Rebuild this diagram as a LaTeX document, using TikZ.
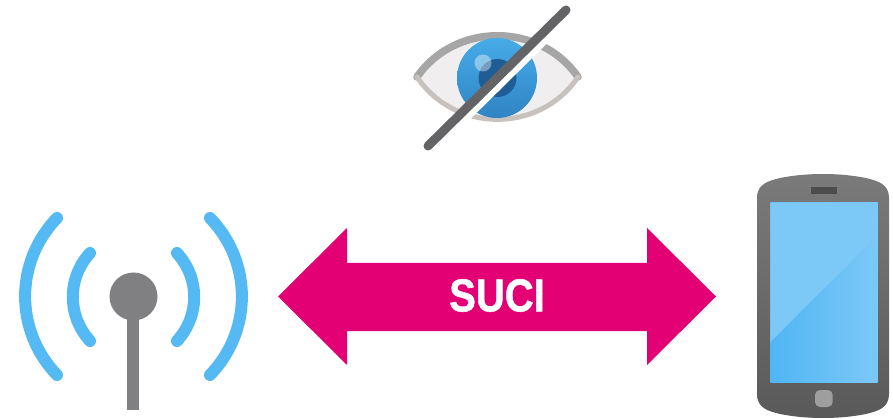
\documentclass[tikz,border=0pt]{standalone}
\usepackage{fontspec}
\setmainfont{Liberation Sans}
\usepackage{xcolor}
\usetikzlibrary{positioning,calc}
\definecolor{magentalink}{RGB}{226,0,116}
\definecolor{signalblue}{RGB}{85,185,243}
\definecolor{mastgray}{RGB}{128,128,130}
\definecolor{slashgray}{RGB}{100,100,102}
\definecolor{screenlight}{RGB}{124,200,246}
\definecolor{screenlow}{RGB}{80,182,243}
\definecolor{irislight}{RGB}{70,172,232}
\definecolor{irisdark}{RGB}{48,132,196}
\definecolor{pupilblue}{RGB}{32,92,150}
\definecolor{lidtop}{RGB}{166,166,166}
\definecolor{lidlow}{RGB}{200,194,190}
\definecolor{sclera}{RGB}{240,238,238}
\begin{document}
\begin{tikzpicture}[
  x=1pt, y=-1pt,
  signal/.style={draw=signalblue, line width=12pt, line cap=round},
  mast/.style={fill=mastgray, draw=none},
  lid/.style={line cap=round, draw=#1},
  linkarrow/.style={fill=magentalink, draw=none},
  label/.style={font=\bfseries\fontsize{46}{46}\selectfont\addfontfeature{FakeBold=1.2},
                text=white, inner sep=0pt, xscale=.87}
]
  \useasboundingbox (0,0) rectangle (893,419);

  % antenna
  \coordinate (outerLT) at (57,218);
  \coordinate (outerLB) at (57,375);
  \coordinate (innerLT) at (90,253);
  \coordinate (innerLB) at (90,341);
  \coordinate (innerRT) at (177,253);
  \coordinate (innerRB) at (177,341);
  \coordinate (outerRT) at (210,218);
  \coordinate (outerRB) at (210,375);
  \draw[signal] (outerLT) to[bend right=44] (outerLB);
  \draw[signal] (innerLT) to[bend right=42] (innerLB);
  \draw[signal] (innerRT) to[bend left=42] (innerRB);
  \draw[signal] (outerRT) to[bend left=44] (outerRB);
  \fill[mast] (127.3,310) rectangle (139.3,410);
  \fill[mast] (133.5,296.5) circle (24);

  % link
  \fill[linkarrow] (278,296.5) -- (347,228) -- (347,263) -- (647,263) -- (647,228)
    -- (716,296.5) -- (647,365) -- (647,331) -- (347,331) -- (347,365) -- cycle;
  \node[label] (suci) at (497,295.5) {SUCI};

  % eye
  \fill[sclera] (417,77) .. controls (455,22) and (540,22) .. (578,77)
    .. controls (540,133) and (455,133) .. cycle;
  \draw[lid=lidtop, line width=7.5pt] (417,77) .. controls (455,22) and (540,22) .. (578,77);
  \draw[lid=lidlow, line width=5pt] (417,77) .. controls (455,133.5) and (540,133.5) .. (578,77);
  \shade[top color=irislight, bottom color=irisdark] (497,78) circle (40);
  \fill[pupilblue] (497.5,78) circle (19);
  \fill[white, opacity=.4] (483,63) circle (8.5);
  \draw[white, line width=6pt] (571.3,15.3) -- (433.3,151.3);
  \draw[slashgray, line width=9pt, line cap=round] (566,10) -- (428,146);

  % phone
  \shade[top color=black!52, bottom color=black!65] (757,198)
    .. controls (757,184) and (768,181) .. (780,178)
    .. controls (795,175) and (810,174) .. (823,174)
    .. controls (836,174) and (851,175) .. (866,178)
    .. controls (878,181) and (889,184) .. (889,198)
    -- (889,394) .. controls (889,408) and (878,411) .. (866,414)
    .. controls (851,417) and (836,418) .. (823,418)
    .. controls (810,418) and (795,417) .. (780,414)
    .. controls (768,411) and (757,408) .. (757,394) -- cycle;
  \fill[black!70] (811,187.5) rectangle (837,194);
  \shade[left color=screenlow, right color=screenlight] (770.3,202.3) rectangle (877.7,382);
  \fill[screenlight] (770.3,202.3) -- (877.7,202.3) -- (877.7,235) -- (770.3,342) -- cycle;
  \fill[black!38, rounded corners=5pt] (815,390) rectangle (832.7,407);
\end{tikzpicture}
\end{document}
